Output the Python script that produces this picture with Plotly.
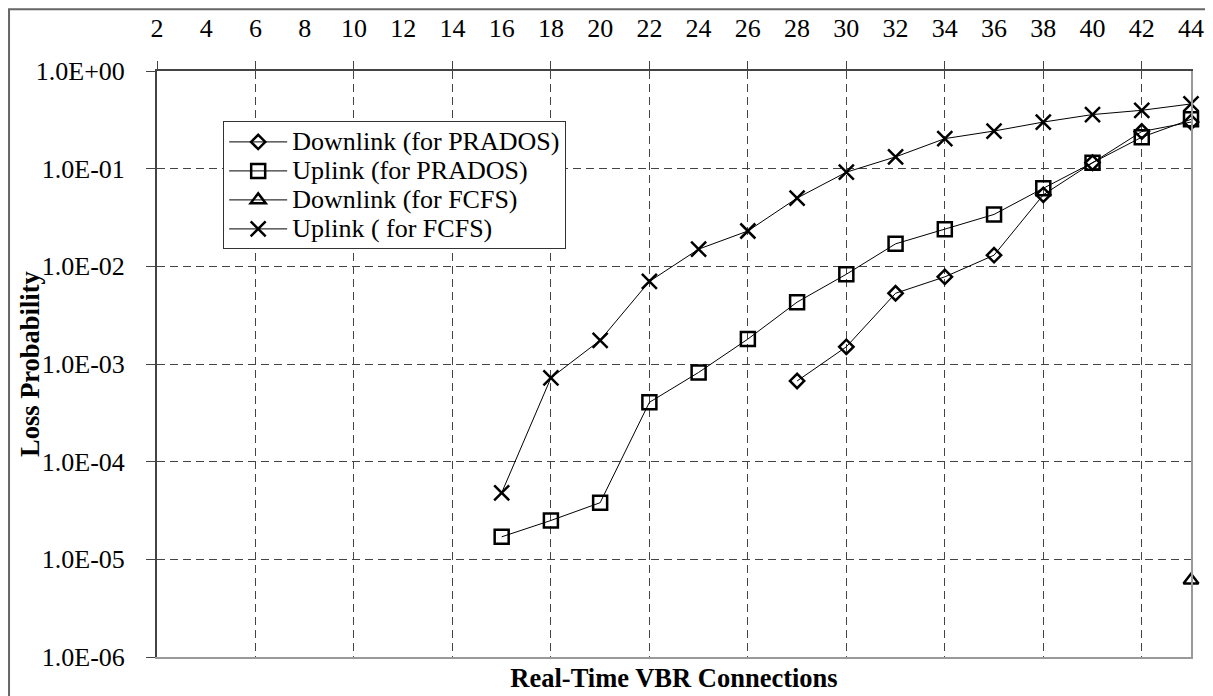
import plotly.graph_objects as go

# ---- data ----
connections = [16, 18, 20, 22, 24, 26, 28, 30, 32, 34, 36, 38, 40, 42, 44]
downlink_prados = [None, None, None, None, None, None, 6.7e-4, 1.5e-3, 5.3e-3, 7.8e-3, 1.3e-2, 5.4e-2, 0.115, 0.24, 0.30]
uplink_prados = [1.7e-5, 2.5e-5, 3.8e-5, 4.05e-4, 8.2e-4, 1.8e-3, 4.3e-3, 8.3e-3, 1.7e-2, 2.4e-2, 3.4e-2, 6.3e-2, 0.115, 0.21, 0.32]
downlink_fcfs = [None, None, None, None, None, None, None, None, None, None, None, None, None, None, 6.1e-6]
uplink_fcfs = [4.8e-5, 7.2e-4, 1.75e-3, 7.0e-3, 1.5e-2, 2.3e-2, 5.0e-2, 9.2e-2, 0.132, 0.203, 0.243, 0.30, 0.358, 0.396, 0.46]

series_names = ["Downlink (for PRADOS)", "Uplink (for PRADOS)", "Downlink (for FCFS)", "Uplink ( for FCFS)"]

x_label_ticks = list(range(2, 46, 2))
x_label_text = [str(v) for v in x_label_ticks]
x_grid_ticks = list(range(2, 44, 4))
y_ticks = [1e-6, 1e-5, 1e-4, 1e-3, 1e-2, 1e-1, 1e0]
y_tick_text = ["1.0E-06", "1.0E-05", "1.0E-04", "1.0E-03", "1.0E-02", "1.0E-01", "1.0E+00"]

FONT = "Liberation Serif"

fig = go.Figure()
styles = [
    dict(symbol="diamond-open", size=11),
    dict(symbol="square-open", size=14),
    dict(symbol="triangle-up-open", size=13),
    dict(symbol="x-thin-open", size=15),
]
for name, vals, st in zip(series_names, [downlink_prados, uplink_prados, downlink_fcfs, uplink_fcfs], styles):
    fig.add_trace(go.Scatter(
        x=connections, y=vals, mode="lines+markers",
        name='<span style="font-size:26px">' + name + '</span>',
        line=dict(color="black", width=1),
        marker=dict(symbol=st["symbol"], size=st["size"], color="black",
                    line=dict(color="black", width=2.5)),
        connectgaps=False, cliponaxis=False,
    ))

grid_color = "#444444"
fig.update_layout(
    width=1205, height=688,
    margin=dict(l=149, r=22, t=63, b=39, autoexpand=False),
    paper_bgcolor="white", plot_bgcolor="white",
    font=dict(family=FONT, color="black", size=26),
    showlegend=True,
    legend=dict(
        x=0.064, y=0.914, xanchor="left", yanchor="top",
        bgcolor="white", bordercolor="#333333", borderwidth=1,
        font=dict(family=FONT, size=20, color="black"),
        itemwidth=58, tracegroupgap=0,
    ),
    xaxis=dict(
        range=[2, 44], tickvals=x_grid_ticks, showticklabels=False, ticks="",
        showgrid=True, gridcolor=grid_color, griddash="8px,5px", gridwidth=1,
        showline=True, linecolor="#999999", linewidth=2, zeroline=False,
        title=dict(text="<b>Real-Time VBR Connections</b>", standoff=10,
                   font=dict(family=FONT, size=26.5)),
        automargin=False,
    ),
    xaxis2=dict(
        overlaying="x", side="top", range=[2, 44], tickvals=x_grid_ticks,
        showticklabels=False, ticks="outside", ticklen=8, tickcolor="#444444", tickwidth=1,
        showgrid=False, showline=True, linecolor="#444444", linewidth=2, zeroline=False,
        automargin=False,
    ),
    xaxis3=dict(
        overlaying="x", side="top", range=[2, 44], tickvals=x_label_ticks, ticktext=x_label_text,
        ticks="", showgrid=False, showline=False, zeroline=False,
        ticklabelstandoff=28, tickfont=dict(family=FONT, size=26),
        automargin=False,
    ),
    yaxis=dict(
        type="log", range=[-6, 0], tickvals=y_ticks, ticktext=y_tick_text,
        ticks="outside", ticklen=9, tickcolor="#444444", tickwidth=1,
        ticklabelstandoff=16, tickfont=dict(family=FONT, size=26),
        showgrid=True, gridcolor=grid_color, griddash="8px,5px", gridwidth=1,
        showline=True, linecolor="#444444", linewidth=2, zeroline=False,
        automargin=False,
    ),
    yaxis2=dict(
        overlaying="y", side="right", type="log", range=[-6, 0],
        showticklabels=False, ticks="", showgrid=False,
        showline=True, linecolor="#999999", linewidth=2, zeroline=False,
        automargin=False,
    ),
)
# y-axis title
fig.add_annotation(text="<b>Loss Probability</b>", xref="paper", yref="paper",
                   x=-0.1228, y=0.5, textangle=-90, showarrow=False,
                   xanchor="center", yanchor="middle",
                   font=dict(family=FONT, size=26.5, color="black"))

# dummy empty traces to bind the overlay axes
fig.add_trace(go.Scatter(x=[None], y=[None], xaxis="x2", yaxis="y2", showlegend=False, hoverinfo="skip"))
fig.add_trace(go.Scatter(x=[None], y=[None], xaxis="x3", yaxis="y", showlegend=False, hoverinfo="skip"))

# outer chart border
fig.add_shape(type="rect", xref="paper", yref="paper",
              x0=-0.1431, x1=1.0155, y0=-0.09, y1=1.1053,
              line=dict(color="#666666", width=2), layer="below")

fig.write_html("out.html")
